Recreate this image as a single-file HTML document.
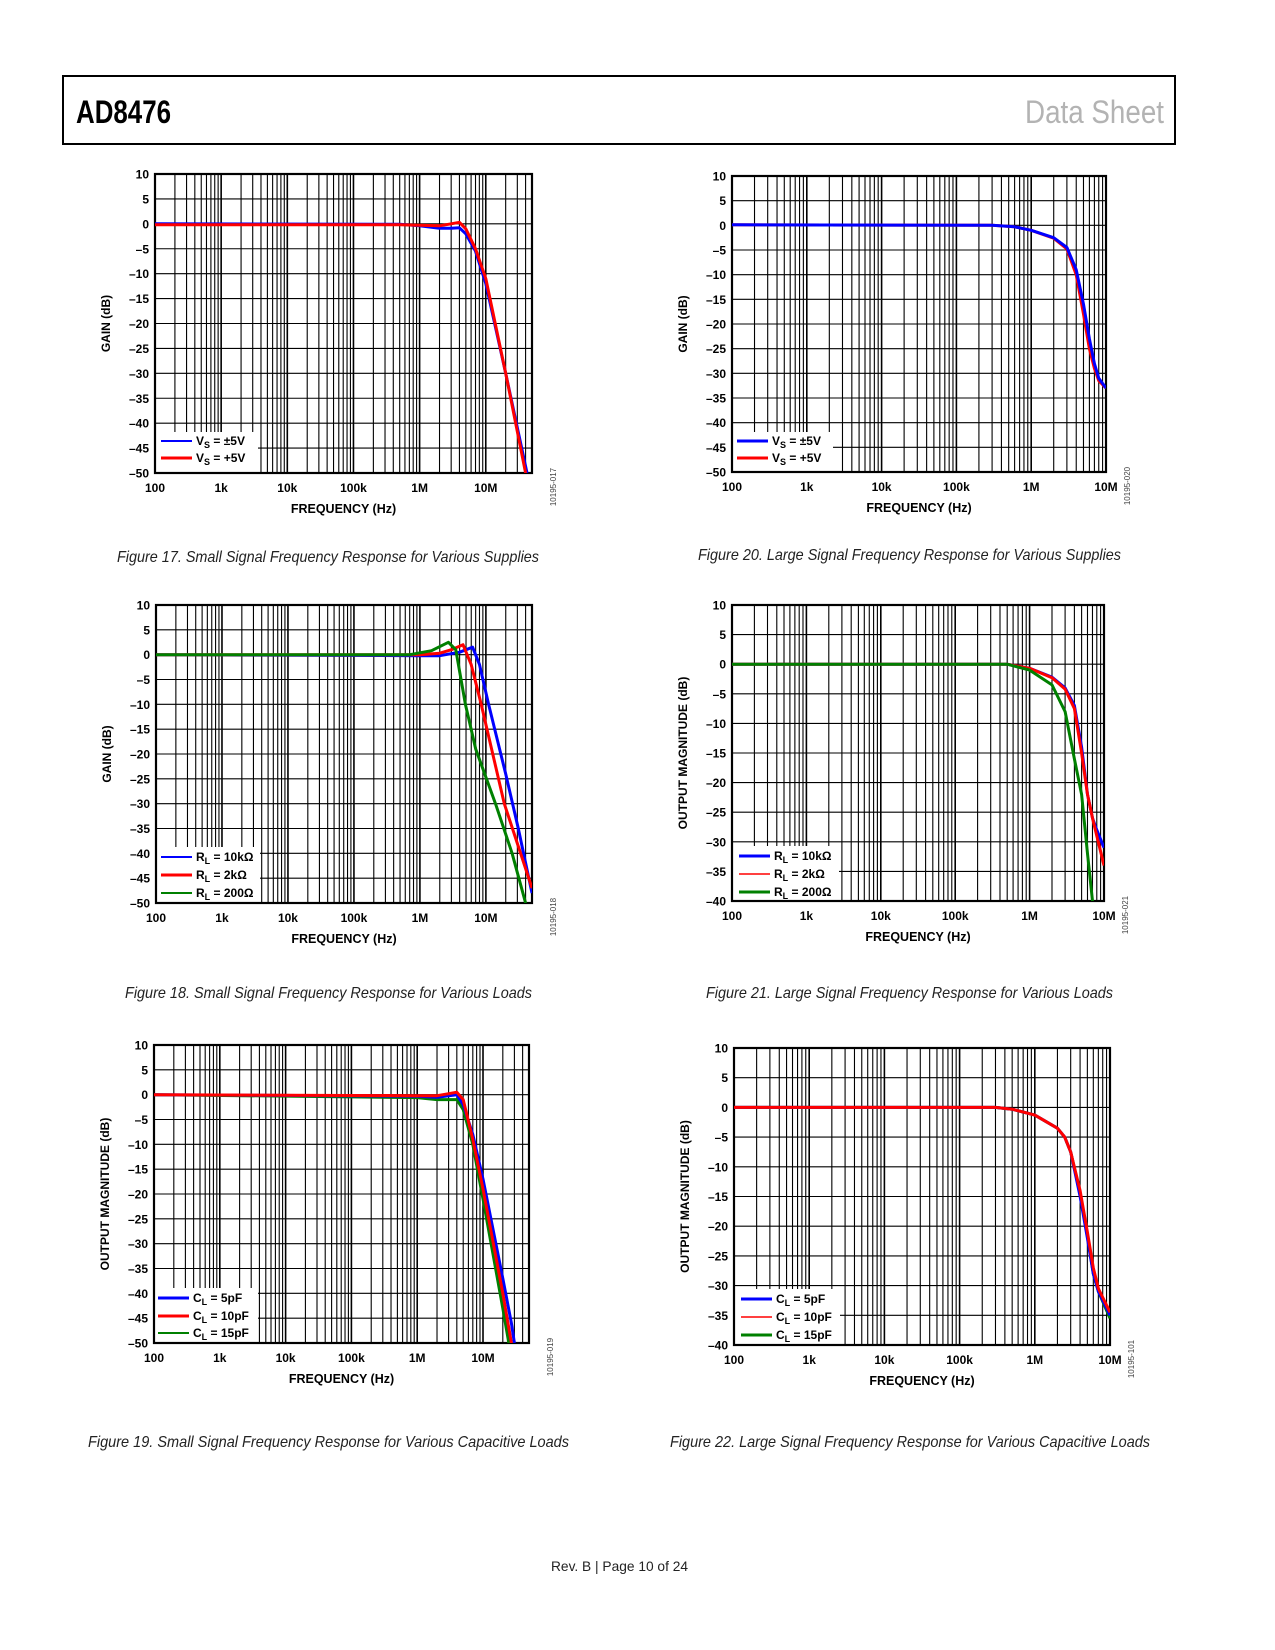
<!DOCTYPE html>
<html><head><meta charset="utf-8"><style>
html,body{margin:0;padding:0;background:#fff;}
svg{display:block;font-family:"Liberation Sans",Arial,sans-serif;}
</style></head><body>
<svg id="page" width="1275" height="1650" viewBox="0 0 1275 1650" xmlns="http://www.w3.org/2000/svg">
<rect x="63" y="76" width="1112" height="68" fill="none" stroke="#000" stroke-width="2"/>
<text x="76" y="123" font-weight="bold" font-size="32" textLength="95" lengthAdjust="spacingAndGlyphs">AD8476</text>
<text x="1025" y="123" fill="#b3b3b3" font-size="32" textLength="139" lengthAdjust="spacingAndGlyphs">Data Sheet</text>
<g font-style="italic" font-size="16" fill="#222">
<text x="117" y="562" textLength="422" lengthAdjust="spacingAndGlyphs">Figure 17. Small Signal Frequency Response for Various Supplies</text>
<text x="698" y="560" textLength="423" lengthAdjust="spacingAndGlyphs">Figure 20. Large Signal Frequency Response for Various Supplies</text>
<text x="125" y="998" textLength="407" lengthAdjust="spacingAndGlyphs">Figure 18. Small Signal Frequency Response for Various Loads</text>
<text x="706" y="998" textLength="407" lengthAdjust="spacingAndGlyphs">Figure 21. Large Signal Frequency Response for Various Loads</text>
<text x="88" y="1447" textLength="481" lengthAdjust="spacingAndGlyphs">Figure 19. Small Signal Frequency Response for Various Capacitive Loads</text>
<text x="670" y="1447" textLength="480" lengthAdjust="spacingAndGlyphs">Figure 22. Large Signal Frequency Response for Various Capacitive Loads</text>
</g>
<text x="551" y="1571" font-size="14" fill="#222" textLength="137" lengthAdjust="spacingAndGlyphs">Rev. B | Page 10 of 24</text>
</svg>
<script>
// ---- data ----
const xTickLabels = ['100','1k','10k','100k','1M','10M'];
const yTicksA = ['10','5','0','–5','–10','–15','–20','–25','–30','–35','–40','–45','–50'];
const yTicksB = ['10','5','0','–5','–10','–15','–20','–25','–30','–35','–40'];

// Fig 17
const f17Freq1 = [100,5e5,1e6,2e6,3e6,4e6,5e6,7e6,1e7,2e7,4.2e7];
const f17Vs5dual = [0,-0.1,-0.4,-0.9,-0.9,-0.8,-2,-5.5,-12,-30,-50];
const f17Freq2 = [100,5e5,1e6,2e6,3e6,4e6,5e6,7e6,1e7,2e7,4e7];
const f17Vs5single = [-0.2,-0.2,-0.3,-0.4,0,0.3,-1,-5,-11,-30,-50];
// Fig 20
const f20Freq = [100,3e5,6e5,1e6,2e6,3e6,4e6,5e6,6e6,7e6,8e6,1e7];
const f20Vs5dual = [0.1,0,-0.3,-1,-2.5,-4.5,-9,-16,-23,-28,-31,-33];
const f20Vs5single = [0.1,0,-0.3,-1,-2.6,-4.8,-10,-18,-25,-29,-31.5,-33];
// Fig 18
const f18Freq10k = [100,1e6,2e6,4e6,6.3e6,8e6,1.1e7,2e7,3.1e7,5e7];
const f18R10k = [0,-0.2,-0.2,0.5,1.5,-2,-10,-24,-35,-48];
const f18Freq2k = [100,1e6,2e6,3e6,4.5e6,6e6,8.5e6,1.9e7,5e7];
const f18R2k = [0,0,0.3,1,2,-2,-10,-30,-47];
const f18Freq200 = [100,7e5,1.5e6,2.7e6,3.5e6,4.9e6,7e6,1.4e7,2.5e7,4e7];
const f18R200 = [0,0,0.8,2.5,1,-10,-19,-30,-40,-50];
// Fig 21
const f21Freq = [100,5e5,1e6,2e6,3e6,4e6,5e6,6e6,7e6,8e6,1e7];
const f21R10k = [0,0,-0.7,-2.2,-4,-7,-14,-22,-26,-28,-31];
const f21R2k = [0,0,-0.7,-2.3,-4.2,-7.5,-15,-22,-26,-29,-34];
const f21Freq200 = [100,5e5,1e6,2e6,3e6,4e6,5e6,6e6,7e6];
const f21R200 = [0,0,-1,-3.5,-8,-16,-22,-32,-40];
// Fig 19
const f19Freq = [100,1e6,2e6,3e6,4e6,5e6,7e6,1e7,2e7,2.7e7,3e7];
const f19C5 = [0,-0.3,-0.5,-0.2,0,-2,-8,-17,-37,-46,-50];
const f19C10 = [0,-0.2,-0.2,0.2,0.5,-1,-9,-19,-40,-50,-54];
const f19C15 = [0,-0.6,-1,-1,-1,-3,-10,-21,-43,-53,-56];
// Fig 22
const f22Freq = [100,3e5,5e5,1e6,2e6,2.5e6,3e6,4e6,5e6,6e6,7e6,1e7];
const f22C5 = [0,0,-0.3,-1.3,-3.5,-5,-7.5,-15,-22,-28,-31,-35];
const f22C10 = [0,0,-0.3,-1.3,-3.5,-5,-7.5,-14,-21,-27,-30.5,-34.5];
const f22C15 = [0,0,-0.3,-1.3,-3.5,-5,-7.5,-14.5,-21.5,-28,-31,-35.5];

const NS='http://www.w3.org/2000/svg';
const svg=document.getElementById('page');
function mk(tag,attrs,parent){const e=document.createElementNS(NS,tag);for(const k in attrs)e.setAttribute(k,attrs[k]);(parent||svg).appendChild(e);return e;}

function chart(cfg){
  const g=mk('g',{});
  
  
  const {x0,x1,y0,y1,fmax,ymax,ymin}=cfg;
  const lmin=2,lmax=Math.log10(fmax);
  const X=f=>x0+(Math.log10(f)-lmin)/(lmax-lmin)*(x1-x0);
  const Y=v=>y0+(ymax-v)/(ymax-ymin)*(y1-y0);
  const clipId='clip'+cfg.name;
  const cp=mk('clipPath',{id:clipId},g);mk('rect',{x:x0,y:y0,width:x1-x0,height:y1-y0},cp);
  const grid=mk('g',{stroke:'#000','stroke-width':1.1},g);
  
  
  for(let d=2;d<Math.ceil(lmax)+1;d++){for(let m=1;m<10;m++){const f=m*Math.pow(10,d);if(f<=100||f>=fmax*0.999)continue;const x=X(f);mk('line',{x1:x,x2:x,y1:y0,y2:y1,'stroke-width':m===1?1.6:1.1},grid);}}
  for(let v=ymax-5;v>ymin;v-=5){const y=Y(v);mk('line',{x1:x0,x2:x1,y1:y,y2:y},grid);}
  mk('rect',{x:x0+1,y:cfg.lgTop,width:cfg.lgW,height:y1-cfg.lgTop-1,fill:'#fff'},g);
  mk('rect',{x:x0,y:y0,width:x1-x0,height:y1-y0,fill:'none',stroke:'#000','stroke-width':2.2},g);
  cfg.yt.forEach((t,i)=>{const v=ymax-5*i;const tx=mk('text',{x:x0-6,y:Y(v)+4.5,'text-anchor':'end','font-size':12,'font-weight':'bold'},g);tx.textContent=t;
    
    });
  xTickLabels.forEach((t,i)=>{const tx=mk('text',{x:X(100*Math.pow(10,i)),y:y1+19,'text-anchor':'middle','font-size':12,'font-weight':'bold'},g);tx.textContent=t;
    
    });
  const xt=mk('text',{x:(x0+x1)/2,y:y1+40,'text-anchor':'middle','font-size':12.5,'font-weight':'bold'},g);xt.textContent='FREQUENCY (Hz)';
  
  
  const yc=(y0+y1)/2, yx=x0-45;
  const yt=mk('text',{x:yx,y:yc,'text-anchor':'middle','font-size':12,'font-weight':'bold',transform:`rotate(-90 ${yx} ${yc})`},g);yt.textContent=cfg.ytitle;
  
  
  const idx=x1+24, idy=y1+14;
  const id=mk('text',{x:idx,y:idy,'text-anchor':'middle','font-size':8,fill:'#444',transform:`rotate(-90 ${idx} ${idy})`},g);id.textContent=cfg.id;
  
  
  const sg=mk('g',{'clip-path':`url(#${clipId})`,fill:'none','stroke-width':3,'stroke-linejoin':'round'},g);
  cfg.draw.forEach(k=>{const s=cfg.series[k];
    const pts=s.f.map((f,i)=>X(f).toFixed(1)+','+Y(s.v[i]).toFixed(1)).join(' ');
    const pl=mk('polyline',{points:pts,stroke:s.c},sg);
    
    
  });
  cfg.series.forEach((s,i)=>{
    const ly=cfg.lgY[i];
    const ll=mk('line',{x1:x0+cfg.lgLx,x2:x0+cfg.lgLx+31,y1:ly,y2:ly,stroke:s.c,'stroke-width':s.lw||3},g);
    
    
    const t=mk('text',{x:x0+cfg.lgLx+35,y:ly+4,'font-size':12,'font-weight':'bold'},g);
    
    
    mk('tspan',{},t).textContent=s.sym;
    mk('tspan',{'font-size':9,dy:3},t).textContent=s.sub;
    mk('tspan',{dy:-3},t).textContent=s.lab;
  });
}

chart({name:'chart-fig17',x0:155,x1:532,y0:174,y1:473,fmax:5e7,ymax:10,ymin:-50,yt:yTicksA,ytitle:'GAIN (dB)',id:'10195-017',
  lgTop:432,lgW:102,lgLx:6,lgY:[441,458],draw:[0,1],
  series:[{f:f17Freq1,v:f17Vs5dual,c:'#0000ff',sym:'V',sub:'S',lab:' = ±5V',lw:2},{f:f17Freq2,v:f17Vs5single,c:'#ff0000',sym:'V',sub:'S',lab:' = +5V'}]});
chart({name:'chart-fig20',x0:732,x1:1106,y0:176,y1:472,fmax:1e7,ymax:10,ymin:-50,yt:yTicksA,ytitle:'GAIN (dB)',id:'10195-020',
  lgTop:432,lgW:100,lgLx:5,lgY:[441,458],draw:[1,0],
  series:[{f:f20Freq,v:f20Vs5dual,c:'#0000ff',sym:'V',sub:'S',lab:' = ±5V'},{f:f20Freq,v:f20Vs5single,c:'#ff0000',sym:'V',sub:'S',lab:' = +5V'}]});
chart({name:'chart-fig18',x0:156,x1:532,y0:605,y1:903,fmax:5e7,ymax:10,ymin:-50,yt:yTicksA,ytitle:'GAIN (dB)',id:'10195-018',
  lgTop:847,lgW:103,lgLx:5,lgY:[857,875,893],draw:[0,1,2],
  series:[{f:f18Freq10k,v:f18R10k,c:'#0000ff',sym:'R',sub:'L',lab:' = 10kΩ',lw:2},{f:f18Freq2k,v:f18R2k,c:'#ff0000',sym:'R',sub:'L',lab:' = 2kΩ'},{f:f18Freq200,v:f18R200,c:'#008000',sym:'R',sub:'L',lab:' = 200Ω',lw:2}]});
chart({name:'chart-fig21',x0:732,x1:1104,y0:605,y1:901,fmax:1e7,ymax:10,ymin:-40,yt:yTicksB,ytitle:'OUTPUT MAGNITUDE (dB)',id:'10195-021',
  lgTop:846,lgW:106,lgLx:7,lgY:[856,874,892],draw:[0,1,2],
  series:[{f:f21Freq,v:f21R10k,c:'#0000ff',sym:'R',sub:'L',lab:' = 10kΩ'},{f:f21Freq,v:f21R2k,c:'#ff0000',sym:'R',sub:'L',lab:' = 2kΩ',lw:1.5},{f:f21Freq200,v:f21R200,c:'#008000',sym:'R',sub:'L',lab:' = 200Ω'}]});
chart({name:'chart-fig19',x0:154,x1:529,y0:1045,y1:1343,fmax:5e7,ymax:10,ymin:-50,yt:yTicksA,ytitle:'OUTPUT MAGNITUDE (dB)',id:'10195-019',
  lgTop:1288,lgW:103,lgLx:4,lgY:[1298,1316,1333],draw:[2,0,1],
  series:[{f:f19Freq,v:f19C5,c:'#0000ff',sym:'C',sub:'L',lab:' = 5pF'},{f:f19Freq,v:f19C10,c:'#ff0000',sym:'C',sub:'L',lab:' = 10pF'},{f:f19Freq,v:f19C15,c:'#008000',sym:'C',sub:'L',lab:' = 15pF',lw:2}]});
chart({name:'chart-fig22',x0:734,x1:1110,y0:1048,y1:1345,fmax:1e7,ymax:10,ymin:-40,yt:yTicksB,ytitle:'OUTPUT MAGNITUDE (dB)',id:'10195-101',
  lgTop:1289,lgW:105,lgLx:7,lgY:[1299,1317,1335],draw:[2,0,1],
  series:[{f:f22Freq,v:f22C5,c:'#0000ff',sym:'C',sub:'L',lab:' = 5pF'},{f:f22Freq,v:f22C10,c:'#ff0000',sym:'C',sub:'L',lab:' = 10pF',lw:1.5},{f:f22Freq,v:f22C15,c:'#008000',sym:'C',sub:'L',lab:' = 15pF'}]});
</script>
</body></html>
